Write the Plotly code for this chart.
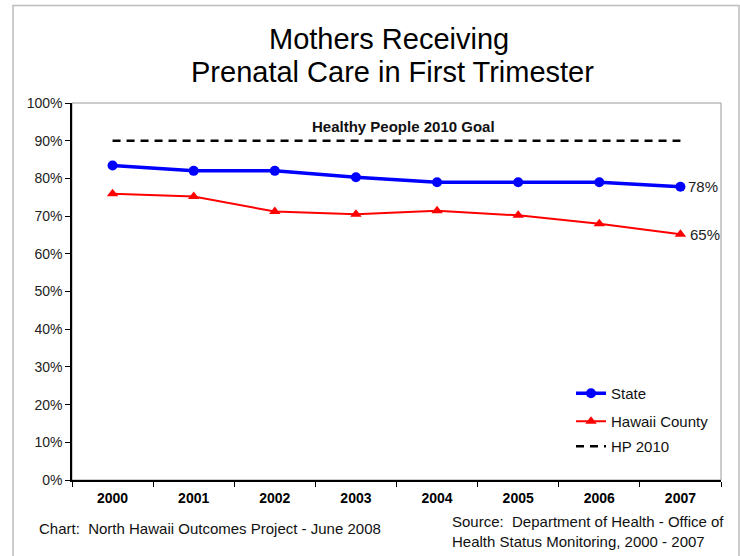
import plotly.graph_objects as go

years = ["2000", "2001", "2002", "2003", "2004", "2005", "2006", "2007"]
state = [0.834, 0.820, 0.820, 0.803, 0.790, 0.790, 0.790, 0.778]
hawaii_county = [0.759, 0.752, 0.712, 0.705, 0.714, 0.702, 0.680, 0.652]
hp2010 = [0.90, 0.90, 0.90, 0.90, 0.90, 0.90, 0.90, 0.90]
y_ticks = [0, 0.1, 0.2, 0.3, 0.4, 0.5, 0.6, 0.7, 0.8, 0.9, 1.0]

FONT = "Liberation Sans, Arial, sans-serif"
L, T, PW, PH = 72, 103, 649, 377


def px(x):
    return (x - L) / PW


def py(y):
    return (T + PH - y) / PH


fig = go.Figure()
fig.add_trace(go.Scatter(
    x=years, y=state, name="State", mode="lines+markers",
    line=dict(color="#0000FF", width=3.5),
    marker=dict(symbol="circle", size=10, color="#0000FF"),
    legend="legend"))
fig.add_trace(go.Scatter(
    x=years, y=hawaii_county, name="Hawaii County", mode="lines+markers",
    line=dict(color="#FF0000", width=2),
    marker=dict(symbol="triangle-up", size=10, color="#FF0000"),
    legend="legend2"))
fig.add_trace(go.Scatter(
    x=years, y=hp2010, name="HP 2010", mode="lines",
    line=dict(color="#000000", width=2.5, dash="8px,6px"),
    legend="legend3"))

# end labels (category index of the last year)
last_idx = len(years) - 1
fig.add_annotation(x=last_idx, y=state[-1], text=f"{round(state[-1]*100)}%",
                   xanchor="left", xshift=6, showarrow=False,
                   font=dict(size=15, color="#222222", family=FONT))
fig.add_annotation(x=last_idx, y=hawaii_county[-1], text=f"{round(hawaii_county[-1]*100)}%",
                   xanchor="left", xshift=8, showarrow=False,
                   font=dict(size=15, color="#222222", family=FONT))
# goal label
fig.add_annotation(x=px(403), xref="paper", y=py(126), yref="paper",
                   text="<b>Healthy People 2010 Goal</b>",
                   showarrow=False, yanchor="middle",
                   font=dict(size=15, color="#111111", family=FONT))

# title
fig.add_annotation(x=px(389), xref="paper", y=py(39), yref="paper",
                   text="Mothers Receiving", showarrow=False, yanchor="middle",
                   font=dict(size=29, color="#000000", family=FONT))
fig.add_annotation(x=px(392), xref="paper", y=py(72), yref="paper",
                   text="Prenatal Care in First Trimester", showarrow=False, yanchor="middle",
                   font=dict(size=29, color="#000000", family=FONT))

# footers
fig.add_annotation(x=px(37), xref="paper", y=py(528), yref="paper",
                   text="Chart:  North Hawaii Outcomes Project - June 2008", showarrow=False,
                   xanchor="left", yanchor="middle",
                   font=dict(size=15, color="#111111", family=FONT))
fig.add_annotation(x=px(450), xref="paper", y=py(531.5), yref="paper",
                   text="Source:  Department of Health - Office of<br>Health Status Monitoring, 2000 - 2007",
                   showarrow=False, xanchor="left", yanchor="middle", align="left",
                   font=dict(size=15, color="#111111", family=FONT))

# plot border (gray) and outer frame
fig.add_shape(type="rect", xref="paper", yref="paper", x0=0, x1=1, y0=0, y1=1,
              line=dict(color="#9a9a9a", width=1), layer="below")
fig.add_shape(type="rect", xref="paper", yref="paper",
              x0=px(13), x1=px(739), y0=py(570), y1=py(5.5),
              line=dict(color="#bdbdbd", width=1.5), layer="below")

legend_common = dict(xanchor="left", yanchor="top", bgcolor="rgba(0,0,0,0)",
                     font=dict(size=15, family=FONT, color="#111111"), itemwidth=30)

fig.update_layout(
    width=740, height=556,
    margin=dict(l=L, r=740 - L - PW, t=T, b=556 - T - PH),
    paper_bgcolor="white", plot_bgcolor="white",
    font=dict(family=FONT, color="#111111"),
    showlegend=True,
    legend=dict(x=px(571), y=py(377), **legend_common),
    legend2=dict(x=px(571), y=py(405), **legend_common),
    legend3=dict(x=px(571), y=py(430), **legend_common),
    xaxis=dict(type="category", range=[-0.5, 7.5], showgrid=False, zeroline=False,
               showline=True, linecolor="#000000", linewidth=1.5,
               ticks="outside", tickson="boundaries", ticklen=5, tickcolor="#000000",
               tickfont=dict(size=14, family=FONT, color="#000000", weight="bold"),
               ticklabelstandoff=4),
    yaxis=dict(range=[0, 1.0], tickvals=y_ticks, tickformat=".0%", showgrid=False,
               zeroline=False, showline=True, linecolor="#000000", linewidth=1.5,
               ticks="outside", ticklen=5, tickcolor="#000000",
               tickfont=dict(size=14, family=FONT, color="#222222")),
)

fig.write_html("out.html", config={"displayModeBar": False},
               post_script="document.body.style.margin='0';")
